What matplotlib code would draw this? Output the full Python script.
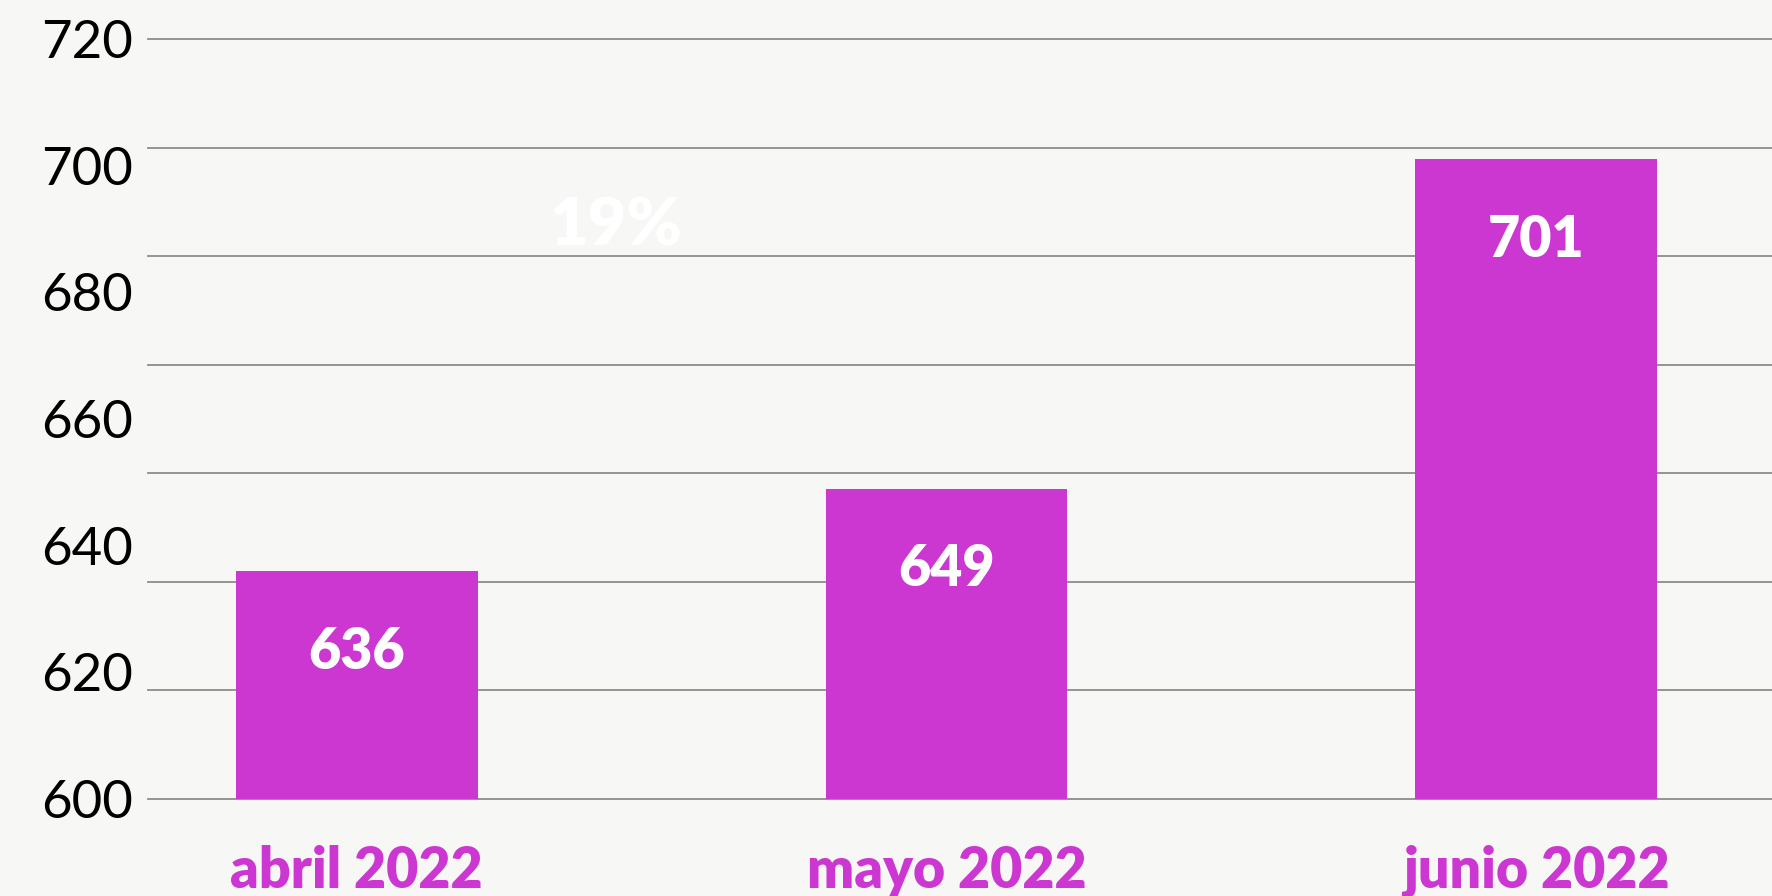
import numpy as np
import matplotlib
matplotlib.use("Agg")
import matplotlib.pyplot as plt

meses = ["abril 2022", "mayo 2022", "junio 2022"]
valores = [636, 649, 701]
ticks_y = [600, 620, 640, 660, 680, 700, 720]

fondo = "#f7f7f5"
magenta = "#cc36d1"

plt.rcParams['font.family'] = ['Lato', 'DejaVu Sans']

fig = plt.figure(figsize=(17.72, 8.96), dpi=100, facecolor=fondo)
ax = fig.add_axes([0.0835, 0.1083, 0.9165, 0.8482], facecolor=fondo)

x = np.arange(len(meses))
ax.bar(x, valores, width=0.41, color=magenta, zorder=3)

for xi, v in zip(x, valores):
    ax.annotate(str(v), (xi, v), xytext=(0, -58), textcoords="offset points",
                ha="center", va="center", color="white", fontsize=40,
                fontweight="heavy", zorder=4)

# texto casi invisible en el original
ax.text(0.288, 0.754, "19%", transform=ax.transAxes, ha="center", va="center",
        color="white", fontsize=48, fontweight="heavy")

ax.set_xlim(-0.354, 2.40)
ax.set_ylim(600, 720)
ax.set_yticks(ticks_y)
# 8 lineas de cuadricula, no coinciden con las etiquetas
for yg in np.linspace(600, 720, 8):
    ax.axhline(yg, color="#8c8c8c", linewidth=1.3, zorder=1, clip_on=False)
ax.tick_params(axis="y", length=0, labelsize=38, pad=11, labelcolor="black")
ax.set_xticks(x)
ax.set_xticklabels(meses, color=magenta, fontsize=40, fontweight="heavy")
ax.tick_params(axis="x", length=0, pad=33)

for s in ax.spines.values():
    s.set_visible(False)

fig.savefig("out.png", dpi=100, facecolor=fondo)
